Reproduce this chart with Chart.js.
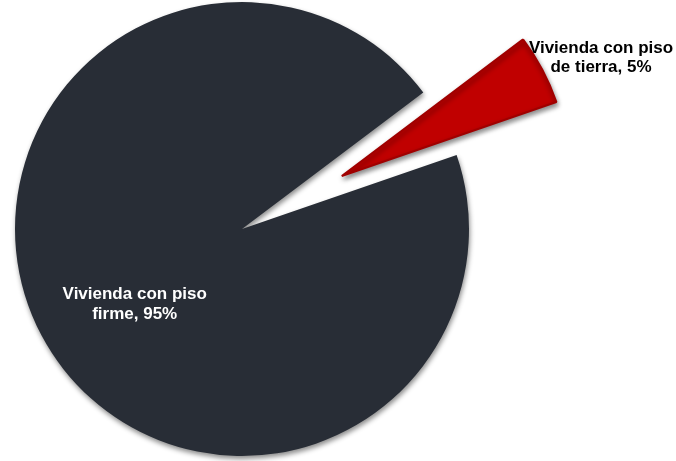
<!DOCTYPE html>
<html>
<head>
<meta charset="utf-8">
<script src="https://cdn.jsdelivr.net/npm/chart.js@4.4.1/dist/chart.umd.min.js"></script>
<style>
  html, body { margin: 0; padding: 0; background: #ffffff; }
  #wrap { width: 676px; height: 461px; position: relative; }
</style>
</head>
<body>
<div id="wrap"><canvas id="c"></canvas></div>
<script>
// ---- data ----
const categories = ['Vivienda con piso firme', 'Vivienda con piso de tierra'];
const values = [95, 5];
const labelLines = [['Vivienda con piso', 'firme, 95%'], ['Vivienda con piso', 'de tierra, 5%']];

const pieLabels = {
  id: 'pieLabels',
  afterDatasetsUpdate(chart, args, opts) {
    const meta = chart.getDatasetMeta(0);
    meta.data.forEach((arc, i) => {
      const d = opts.explode[i] || 0;
      if (!d) return;
      const mid = (arc.startAngle + arc.endAngle) / 2;
      arc.x += Math.cos(mid) * d;
      arc.y += Math.sin(mid) * d;
    });
  },
  beforeDatasetsDraw(chart, args, opts) {
    const ctx = chart.ctx;
    ctx.save();
    ctx.shadowColor = 'rgba(0,0,0,0.45)';
    ctx.shadowBlur = 5;
    ctx.shadowOffsetX = 1;
    ctx.shadowOffsetY = 3;
  },
  afterDatasetsDraw(chart, args, opts) {
    const ctx = chart.ctx;
    ctx.restore();
    const meta = chart.getDatasetMeta(0);
    ctx.save();
    ctx.font = 'bold 17px "Liberation Sans", Arial, sans-serif';
    ctx.textAlign = 'center';
    ctx.textBaseline = 'middle';
    meta.data.forEach((arc, i) => {
      const mid = (arc.startAngle + arc.endAngle) / 2 + opts.nudge[i] * Math.PI / 180;
      const r = arc.outerRadius * opts.frac[i];
      const cx = arc.x + Math.cos(mid) * r;
      const cy = arc.y + Math.sin(mid) * r;
      const lines = labelLines[i];
      const lh = 19.5;
      ctx.fillStyle = opts.colors[i];
      lines.forEach((t, k) => {
        ctx.fillText(t, cx, cy + (k - (lines.length - 1) / 2) * lh);
      });
    });
    ctx.restore();
  }
};

new Chart(document.getElementById('c'), {
  type: 'pie',
  data: {
    labels: categories,
    datasets: [{
      data: values,
      backgroundColor: ['#282d36', '#c00000'],
      borderColor: ['#242931', '#a00000'],
      borderWidth: [0, 2],
      clip: false
    }]
  },
  options: {
    responsive: true,
    maintainAspectRatio: false,
    animation: false,
    rotation: 71,
    radius: 227,
    layout: { padding: { left: 0, right: 192, top: 0, bottom: 3 } },
    plugins: {
      legend: { display: false },
      tooltip: { enabled: false },
      pieLabels: {
        explode: [0, 113],
        nudge: [-7, 3.5],
        frac: [0.577, 1.255],
        colors: ['#ffffff', '#000000']
      }
    }
  },
  plugins: [pieLabels]
});
</script>
</body>
</html>
